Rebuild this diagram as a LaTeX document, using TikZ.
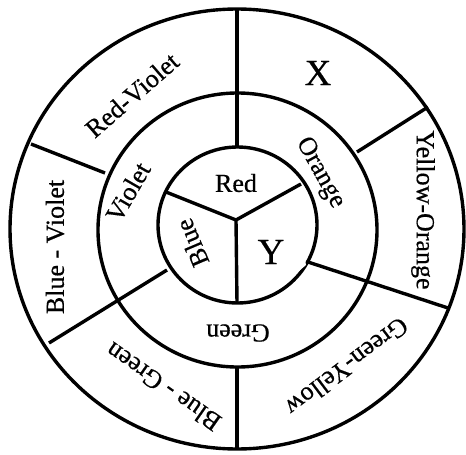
\documentclass[tikz,border=0pt]{standalone}
\usepackage{fontspec}
\setmainfont{Liberation Serif}
\newfontfamily\lblfont[FakeBold=0.5]{Liberation Serif}
\begin{document}
\begin{tikzpicture}[x=1pt,y=-1pt,line width=3.4pt,
  lbl/.style={font=\lblfont\fontsize{26}{30}\selectfont,inner sep=0pt},
  big/.style={font=\lblfont\fontsize{37}{42}\selectfont,inner sep=0pt}]
\useasboundingbox (0,0) rectangle (466,455);
% circles
\draw (237,229) ellipse [x radius=227pt, y radius=220pt];
\draw (237.5,230) ellipse [x radius=139.5pt, y radius=137pt];
\draw (237.5,225) ellipse [x radius=79.5pt, y radius=78pt];
% junction and inner dividers
\coordinate (J) at (236,220);
\coordinate (iL) at (166,192);
\coordinate (iR) at (301,184);
\coordinate (iB) at (237,303);
\draw (J) -- (iL);
\draw (J) -- (iR);
\draw (J) -- (iB);
% ring dividers
\coordinate (tA) at (237,147); \coordinate (tB) at (237,9);
\draw (tA) -- (tB);
\coordinate (bA) at (237,367); \coordinate (bB) at (237,449);
\draw (bA) -- (bB);
\coordinate (ulA) at (105,173); \coordinate (ulB) at (31,144);
\draw (ulA) -- (ulB);
\coordinate (urA) at (357,152); \coordinate (urB) at (428,107);
\draw (urA) -- (urB);
\coordinate (lrA) at (308,262); \coordinate (lrB) at (448,308);
\draw (lrA) -- (lrB);
\coordinate (llA) at (167,270); \coordinate (llB) at (49,343);
\draw (llA) -- (llB);
% small white patch
\fill[white] (297,258) -- (304,255) -- (306,265) -- (299,271) -- cycle;
% labels
\node[lbl] (red) at (236,183) {Red};
\node[big] (y) at (271,252) {Y};
\node[big] (x) at (318,73) {X};
\node[lbl,rotate=113] (blue) at (192,243) {Blue};
\node[lbl,rotate=60] (violet) at (128,192) {Violet};
\node[lbl,rotate=-61] (orange) at (320,173) {Orange};
\node[lbl,rotate=180] (green) at (238,333) {Green};
\node[lbl,rotate=41] (rv) at (132,95) {Red-Violet};
\node[lbl,rotate=90] (bv) at (55,247) {Blue - Violet};
\node[lbl,rotate=-90] (yo) at (423,210) {Yellow-Orange};
\node[lbl,rotate=-143] (gy) at (347,367) {Green-Yellow};
\node[lbl,rotate=145] (bg) at (163,387) {Blue - Green};
\end{tikzpicture}
\end{document}
